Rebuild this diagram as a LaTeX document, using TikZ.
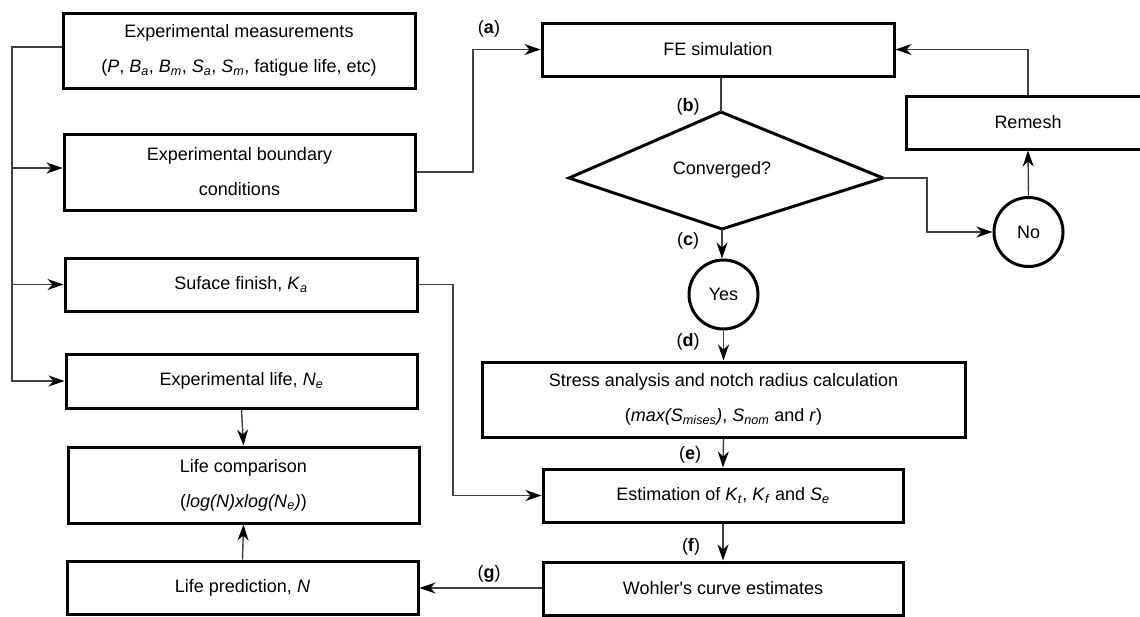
\documentclass[tikz,border=0pt]{standalone}
\usepackage{fontspec}
\setmainfont{Liberation Sans}
\usetikzlibrary{arrows.meta}
\newcommand{\sbi}[1]{\textsubscript{\textit{#1}}}
\begin{document}
\begin{tikzpicture}[x=1pt,y=-1pt,
  every node/.style={font=\fontsize{18}{35}\selectfont},
  box/.style={draw, line width=3pt, inner sep=0pt, align=center},
  circ/.style={draw, circle, line width=3pt, inner sep=0pt, minimum size=69pt},
  conn/.style={line width=1.4pt, draw=black!75},
  arr/.style={conn, -{Stealth[length=16pt,width=11pt,inset=5pt,color=black]}},
  lab/.style={inner sep=0pt}
]
\useasboundingbox (0,0) rectangle (1140,616);
\clip (0,0) rectangle (1140,616);

% left column
\node[box, minimum width=352pt, minimum height=75pt] (meas) at (239,50.5)
  {Experimental measurements\\(\textit{P}, \textit{B}\sbi{a}, \textit{B}\sbi{m}, \textit{S}\sbi{a}, \textit{S}\sbi{m}, fatigue life, etc)};
\node[box, minimum width=351pt, minimum height=76pt] (bound) at (239.5,172)
  {Experimental boundary\\conditions};
\node[box, minimum width=352pt, minimum height=53pt] (surf) at (241,284.5)
  {Suface finish, \textit{K}\sbi{a}};
\node[box, minimum width=351pt, minimum height=54pt] (elife) at (241.5,381)
  {Experimental life, \textit{N}\sbi{e}};
\node[box, minimum width=351pt, minimum height=76pt] (comp) at (243.5,485)
  {Life comparison\\(\textit{log(N)xlog(N}\sbi{e}\textit{)})};
\node[box, minimum width=351pt, minimum height=53pt] (pred) at (242.5,587.5)
  {Life prediction, \textit{N}};

% right column
\node[box, minimum width=352pt, minimum height=53pt] (fe) at (718,49.5) {FE simulation};
\coordinate (cT) at (721,112);
\coordinate (cB) at (722,229);
\coordinate (cL) at (569,178);
\coordinate (cR) at (883,178);
\draw[line width=3pt, line join=miter] (cT) -- (cR) -- (cB) -- (cL) -- cycle;
\node (conv) at (722,170) {Converged?};
\node[circ] (yes) at (723.5,294.5) {Yes};
\node[circ] (no) at (1028.5,232) {No};
\node[box, minimum width=244pt, minimum height=53pt] (remesh) at (1028,122.5) {Remesh};
\node[box, minimum width=483pt, minimum height=75pt] (stress) at (723.5,399.5)
  {Stress analysis and notch radius calculation\\(\textit{max(S}\sbi{mises}\textit{)}, \textit{S}\sbi{nom} and \textit{r})};
\node[box, minimum width=360pt, minimum height=53pt] (est) at (723,495.5)
  {Estimation of \textit{K}\sbi{t}, \textit{K}\sbi{f} and \textit{S}\sbi{e}};
\node[box, minimum width=360pt, minimum height=53pt] (wohl) at (723,588.5)
  {Wohler\textquotesingle s curve estimates};

% labels
\node[lab] (la) at (489,29) {(\textbf{a})};
\node[lab] (lb) at (688,107) {(\textbf{b})};
\node[lab] (lc) at (688,241) {(\textbf{c})};
\node[lab] (ld) at (688,342) {(\textbf{d})};
\node[lab] (le) at (690,455) {(\textbf{e})};
\node[lab] (lf) at (691,547) {(\textbf{f})};
\node[lab] (lg) at (489,574) {(\textbf{g})};

% helper coordinates
\coordinate (t1) at (12,47);
\coordinate (xa) at (473,0);
\coordinate (xb) at (927,0);
\coordinate (xc) at (453,0);

% connectors
\draw[arr] (meas.west |- t1) -- (t1) |- (elife.west);
\draw[arr] (t1 |- 0,168) -- (bound.west |- 0,168);
\draw[arr] (t1 |- surf.west) -- (surf.west);
\draw[arr] (bound.east) -- (bound.east -| xa) |- (fe.west);
\draw[conn] (fe.south -| cT) -- (cT);
\draw[arr] (cB) -- (yes.north -| cB);
\draw[arr] (cR) -- (cR -| xb) |- (no.west);
\draw[arr] (no.north) -- (remesh.south);
\draw[arr] (remesh.north) |- (fe.east);
\draw[arr] (yes.south) -- (stress.north -| yes.south);
\draw[arr] (stress.south) -- (est.north);
\draw[arr] (est.south) -- (wohl.north);
\draw[arr] (wohl.west |- 0,588) -- (pred.east |- 0,588);
\draw[arr] (surf.east) -- (surf.east -| xc) |- (est.west);
\draw[arr] (elife.south) -- (comp.north);
\draw[arr] (pred.north) -- (comp.south);
\end{tikzpicture}
\end{document}
